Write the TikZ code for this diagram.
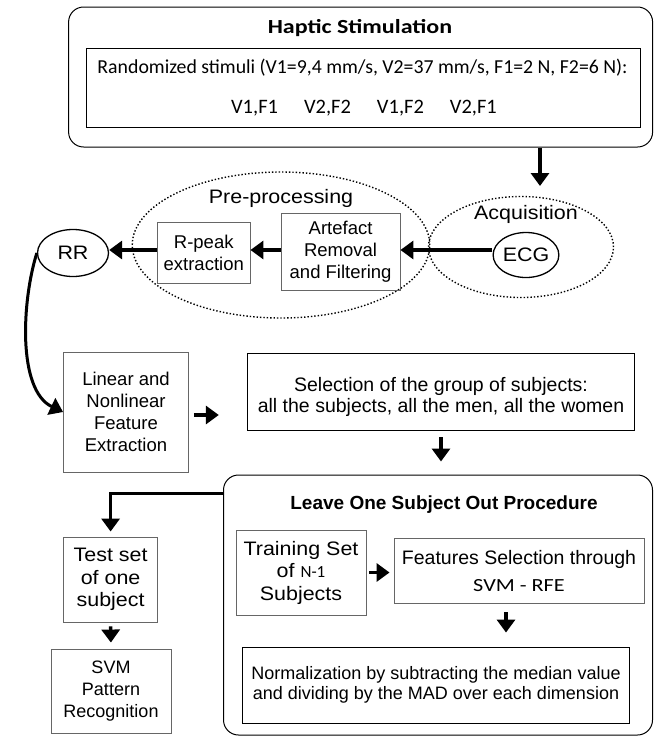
\documentclass[tikz,border=0pt]{standalone}
\usepackage{fontspec}
\setmainfont{Liberation Sans}
\newfontfamily\widefont{Liberation Sans}[FakeStretch=1.1]
\newfontfamily\calfont{Carlito}
\newfontfamily\calwide{Carlito}[FakeStretch=1.2]
\usetikzlibrary{shapes.geometric, arrows.meta}

\begin{document}
\begin{tikzpicture}[x=1pt, y=-1pt,
    box/.style={draw=black!60, line width=.9pt, align=center, inner sep=0pt,
      font=\fontsize{18.5}{22}\selectfont},
    frame/.style={draw, line width=1pt, rounded corners=15pt},
    zone/.style={ellipse, draw, dotted, line width=1.4pt},
    wide/.style={align=center, font=\widefont\fontsize{19.5}{22.5}\selectfont},
    arr/.style={line width=3.4pt, -{Triangle[width=18pt, length=13pt]}}]
  \useasboundingbox (0, 0) rectangle (656, 737);

  \node [frame, minimum width=584, minimum height=140] (haptic) at (360.6, 77) {};
  \node [font=\calwide\bfseries\fontsize{20}{24}\selectfont] (haptitle) at (360, 28) {Haptic Stimulation};
  \node [draw, line width=1pt, minimum width=554, minimum height=79] (stimbox) at (363, 87.5) {};
  \node [font=\calfont\fontsize{19.8}{24}\selectfont] (stimtext) at (362.5, 68)
    {Randomized stimuli (V1=9,4 mm/s, V2=37 mm/s, F1=2 N, F2=6 N):};
  \node [font=\calfont\fontsize{20.5}{24}\selectfont] (stimlist) at (364, 108)
    {V1,F1\hspace{26pt}V2,F2\hspace{26pt}V1,F2\hspace{26pt}V2,F1};

  \node [zone, minimum width=297.5, minimum height=146] (prep) at (281, 245) {};
  \node [wide] (preplabel) at (281, 198) {Pre-processing};
  \node [zone, minimum width=185, minimum height=101] (acq) at (521, 247) {};
  \node [wide] (acqlabel) at (526, 214) {Acquisition};
  \node [ellipse, draw, line width=1.3pt, minimum width=58, minimum height=45, inner sep=0pt, wide] (ecg) at (526, 255) {ECG};
  \node [box, minimum width=118.75, minimum height=77] (art) at (340.6, 251.5) {Artefact\\Removal\\and Filtering};
  \node [box, minimum width=92.5, minimum height=61] (rpeak) at (203.75, 252.5) {R-peak\\extraction};
  \node [ellipse, draw, line width=1.3pt, minimum width=71, minimum height=47, inner sep=0pt, wide] (rr) at (73, 253) {RR};

  \coordinate (acqin) at (540, 186);
  \draw [arr] (haptic.south -| acqin) to (acqin);
  \draw [arr] (ecg.west |- 0, 250) to (art.east |- 0, 250);
  \draw [arr] (art.west |- 0, 250) to (rpeak.east |- 0, 250);
  \draw [arr] (rpeak.west |- 0, 250) to (rr.east |- 0, 250);

  \node [box, minimum width=125, minimum height=120] (lin) at (126, 412) {Linear and\\Nonlinear\\Feature\\Extraction};
  \node [box, draw=black, minimum width=387.5, minimum height=77, font=\fontsize{19.5}{21}\selectfont] (sel) at (441, 391.5)
    {\rule{0pt}{26pt}Selection of the group of subjects:\\all the subjects, all the men, all the women};
  \draw [arr, line width=3pt] (rr.west) .. controls (22, 300) and (17, 390) .. (lin.west);
  \draw [arr, shorten <=5pt, shorten >=28pt] ([yshift=-3]lin.east) to ([yshift=-3]lin.east -| sel.west);

  \node [frame, minimum width=429, minimum height=260] (leave) at (438, 605) {};
  \node [font=\bfseries\fontsize{19}{22}\selectfont] (leavetitle) at (444, 505) {Leave One Subject Out Procedure};
  \draw [arr, shorten <=7pt, shorten >=13pt] (sel.south) to (sel.south |- leave.north);

  \node [box, wide, minimum width=94, minimum height=85] (test) at (110.6, 579.5) {Test set\\of one\\subject};
  \node [box, minimum width=120, minimum height=84, font=\fontsize{18}{22}\selectfont] (svm) at (111, 691) {SVM\\Pattern\\Recognition};
  \draw [arr, shorten >=5pt] ([yshift=-19]leave.north west) -| (test.north);
  \draw [arr, shorten <=4pt, shorten >=6pt] (test.south) to (svm.north);

  \node [box, wide, minimum width=130, minimum height=85] (train) at (301, 572.5)
    {Training Set\\of {\calfont\fontsize{17}{20}\selectfont N-1}\\Subjects};
  \node [box, minimum width=250, minimum height=65, font=\fontsize{19.5}{22}\selectfont] (feat) at (519, 570.5)
    {Features Selection through\\[5pt]{\calwide\fontsize{18.5}{22}\selectfont SVM - RFE}};
  \node [box, draw=black, minimum width=387.5, minimum height=76, font=\fontsize{18}{20.5}\selectfont] (norm) at (436, 685)
    {Normalization by subtracting the median value\\and dividing by the MAD over each dimension};
  \draw [arr, shorten <=3pt, shorten >=4pt] (train.east) to (train.east -| feat.west);
  \draw [arr, shorten <=9pt, shorten >=14pt] ([xshift=-13]feat.south) to ([xshift=-13]feat.south |- norm.north);

\end{tikzpicture}
\end{document}
